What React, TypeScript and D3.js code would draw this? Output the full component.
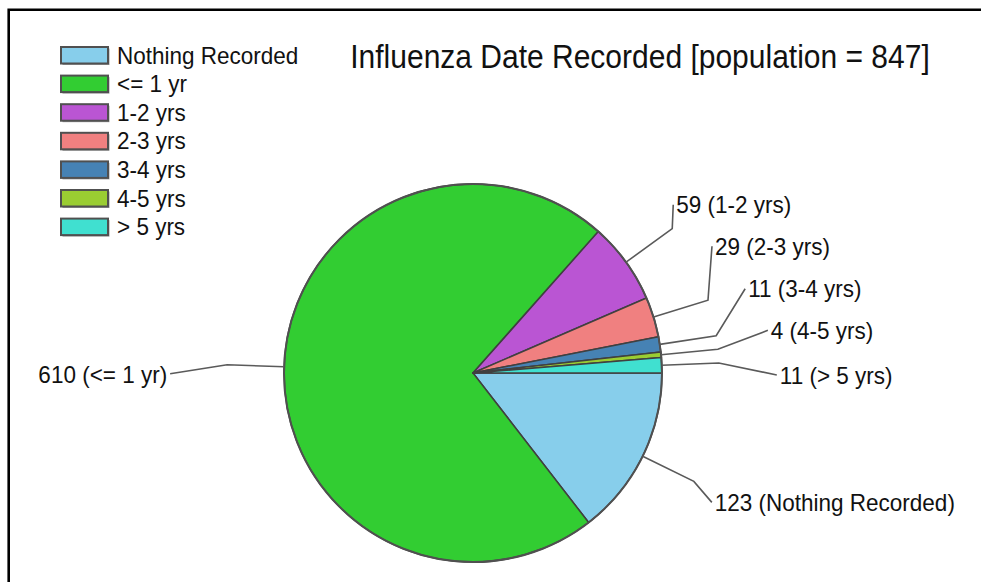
import React from "react";
import * as d3 from "d3";

const categories = ["Nothing Recorded", "<= 1 yr", "1-2 yrs", "2-3 yrs", "3-4 yrs", "4-5 yrs", "> 5 yrs"];
const values = [123, 610, 59, 29, 11, 4, 11];
const colors = ["#87CEEB", "#32CD32", "#BA55D3", "#F08080", "#4682B4", "#9ACD32", "#40E0D0"];
const titleText = "Influenza Date Recorded [population = 847]";

// layout: offsets of each label's anchor from its leader-line elbow
const labelOffsets: [number, number][] = [
  [18, 21],
  [-57, 9],
  [1, -24],
  [4, -54],
  [29, -47],
  [50, -19],
  [58, 12],
];

const W = 981;
const H = 582;
const cx = 473;
const cy = 373;
const R = 189;
const elbowR = 246;
const FONT = "'Liberation Sans', Arial, sans-serif";
const STRETCH = 1.08;

export default function App() {
  const pie = d3
    .pie<number>()
    .sort(null)
    .startAngle(Math.PI / 2)
    .endAngle(Math.PI / 2 + 2 * Math.PI);
  const arcs = pie(values);
  const arc = d3.arc<d3.PieArcDatum<number>>().innerRadius(0).outerRadius(R);
  const legendY = d3.scaleLinear().domain([0, 1]).range([47, 75.6]);

  return (
    <svg
      width={W}
      height={H}
      style={{ position: "absolute", left: 0, top: 0, background: "#fff" }}
      fontFamily={FONT}
    >
      <rect x={0} y={0} width={W} height={H} fill="#fff" />
      <path d={`M8.7,${H} V9.7 H${W}`} fill="none" stroke="#000" strokeWidth={2.6} />

      <g transform={`translate(640,68) scale(1,${STRETCH})`}>
        <text x={0} y={0} textAnchor="middle" fontSize={30} fill="#111">
          {titleText}
        </text>
      </g>

      {/* legend */}
      {categories.map((c, i) => {
        const y = legendY(i);
        return (
          <g key={c}>
            <rect x={62.5} y={y + 1.5} width={47} height={16.5} fill="#a0a0a0" />
            <rect x={61} y={y} width={47} height={16.5} fill={colors[i]} stroke="#505050" strokeWidth={2} />
            <g transform={`translate(117,${y + 16.5}) scale(1,${STRETCH})`}>
              <text x={0} y={0} fontSize={22.5} fill="#111">
                {c}
              </text>
            </g>
          </g>
        );
      })}

      {/* pie */}
      <g transform={`translate(${cx},${cy})`}>
        {arcs.map((a, i) => (
          <path key={i} d={arc(a) || ""} fill={colors[i]} stroke="#404040" strokeWidth={1.5} strokeLinejoin="round" />
        ))}
        <circle r={R} fill="none" stroke="#505050" strokeWidth={2} />
      </g>

      {/* labels */}
      {arcs.map((a, i) => {
        const m = (a.startAngle + a.endAngle) / 2;
        const sx = cx + R * Math.sin(m);
        const sy = cy - R * Math.cos(m);
        const ex = cx + elbowR * Math.sin(m);
        const ey = cy - elbowR * Math.cos(m);
        const [dx, dy] = labelOffsets[i];
        const lx = ex + dx;
        const ly = ey + dy;
        const left = dx < 0;
        return (
          <g key={"l" + i}>
            <polyline
              points={`${sx},${sy} ${ex},${ey} ${lx},${ly}`}
              fill="none"
              stroke="#5a5a5a"
              strokeWidth={1.6}
            />
            <g transform={`translate(${left ? lx - 3 : lx + 3},${ly}) scale(1,${STRETCH})`}>
              <text
                x={0}
                y={0}
                dy="0.36em"
                textAnchor={left ? "end" : "start"}
                fontSize={22.5}
                fill="#111"
              >
                {`${values[i]} (${categories[i]})`}
              </text>
            </g>
          </g>
        );
      })}
    </svg>
  );
}
